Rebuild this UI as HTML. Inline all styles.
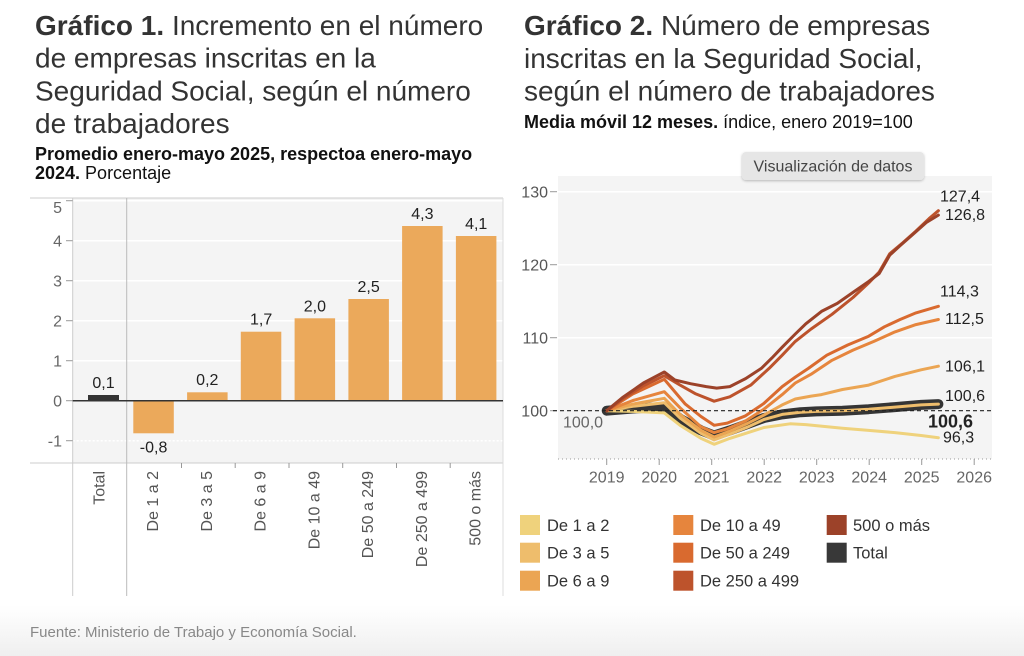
<!DOCTYPE html>
<html>
<head>
<meta charset="utf-8">
<style>
html,body{margin:0;padding:0;background:#fff;}
svg{display:block;font-family:"Liberation Sans",Arial,sans-serif;}
</style>
</head>
<body>
<svg width="1024" height="656" viewBox="0 0 1024 656" xmlns="http://www.w3.org/2000/svg">
<defs>
  <linearGradient id="bot" x1="0" y1="0" x2="0" y2="1">
    <stop offset="0" stop-color="#ffffff"/>
    <stop offset="1" stop-color="#efefef"/>
  </linearGradient>
  <filter id="sh" x="-10%" y="-30%" width="120%" height="170%">
    <feDropShadow dx="0" dy="1" stdDeviation="1.2" flood-color="#000" flood-opacity="0.25"/>
  </filter>
</defs>

<rect x="0" y="605" width="1024" height="51" fill="url(#bot)"/>

<!-- ===== LEFT TITLE ===== -->
<g fill="#333" font-size="28">
  <text x="35" y="35"><tspan font-weight="bold">Gráfico 1.</tspan> Incremento en el número</text>
  <text x="35" y="67.7">de empresas inscritas en la</text>
  <text x="35" y="100.4">Seguridad Social, según el número</text>
  <text x="35" y="133">de trabajadores</text>
</g>
<g fill="#111" font-size="18">
  <text x="35" y="160" font-weight="bold">Promedio enero-mayo 2025, respectoa enero-mayo</text>
  <text x="35" y="179"><tspan font-weight="bold">2024.</tspan> Porcentaje</text>
</g>

<!-- ===== LEFT CHART ===== -->
<rect x="72.7" y="198" width="430.3" height="265" fill="#f4f4f4"/>
<g stroke="#fff" stroke-width="1.5">
  <line x1="72.7" y1="200.7" x2="503" y2="200.7"/>
  <line x1="72.7" y1="240.7" x2="503" y2="240.7"/>
  <line x1="72.7" y1="280.7" x2="503" y2="280.7"/>
  <line x1="72.7" y1="320.7" x2="503" y2="320.7"/>
  <line x1="72.7" y1="360.7" x2="503" y2="360.7"/>
  <line x1="72.7" y1="440.7" x2="503" y2="440.7" stroke-dasharray="2,2"/>
</g>
<g stroke="#ccc" stroke-width="1">
  <line x1="30" y1="198" x2="503" y2="198"/>
  <line x1="30" y1="463" x2="503" y2="463"/>
  <line x1="72.7" y1="198" x2="72.7" y2="596"/>
  <line x1="126.7" y1="198" x2="126.7" y2="596" stroke="#bbb"/>
  <line x1="503" y1="198" x2="503" y2="596" stroke="#ddd"/>
</g>
<!-- y ticks -->
<g stroke="#999" stroke-width="1">
  <line x1="66" y1="200.7" x2="72.7" y2="200.7"/>
  <line x1="66" y1="240.7" x2="72.7" y2="240.7"/>
  <line x1="66" y1="280.7" x2="72.7" y2="280.7"/>
  <line x1="66" y1="320.7" x2="72.7" y2="320.7"/>
  <line x1="66" y1="360.7" x2="72.7" y2="360.7"/>
  <line x1="66" y1="400.7" x2="72.7" y2="400.7"/>
  <line x1="66" y1="440.7" x2="72.7" y2="440.7"/>
  <line x1="181.5" y1="463" x2="181.5" y2="468"/>
  <line x1="235.2" y1="463" x2="235.2" y2="468"/>
  <line x1="289" y1="463" x2="289" y2="468"/>
  <line x1="342.7" y1="463" x2="342.7" y2="468"/>
  <line x1="396.5" y1="463" x2="396.5" y2="468"/>
  <line x1="450.2" y1="463" x2="450.2" y2="468"/>
</g>
<g fill="#666" font-size="16" text-anchor="end">
  <text x="62" y="213">5</text>
  <text x="62" y="246.5">4</text>
  <text x="62" y="286.5">3</text>
  <text x="62" y="326.5">2</text>
  <text x="62" y="366.5">1</text>
  <text x="62" y="406.5">0</text>
  <text x="62" y="446.5">-1</text>
</g>
<!-- bars -->
<rect x="88" y="395" width="31" height="5.7" fill="#333"/>
<g fill="#eba95b">
  <rect x="133.3" y="400.7" width="40.5" height="32.6"/>
  <rect x="187.1" y="392.3" width="40.5" height="8.4"/>
  <rect x="240.8" y="331.7" width="40.5" height="69"/>
  <rect x="294.6" y="318.3" width="40.5" height="82.4"/>
  <rect x="348.4" y="299" width="40.5" height="101.7"/>
  <rect x="402.1" y="226" width="40.5" height="174.7"/>
  <rect x="455.9" y="236" width="40.5" height="164.7"/>
</g>
<line x1="72.7" y1="400.7" x2="503" y2="400.7" stroke="#333" stroke-width="1.5"/>
<g fill="#222" font-size="16" text-anchor="middle">
  <text x="103.5" y="388">0,1</text>
  <text x="153.6" y="452.5">-0,8</text>
  <text x="207.3" y="385">0,2</text>
  <text x="261.1" y="324.7">1,7</text>
  <text x="314.9" y="311.3">2,0</text>
  <text x="368.6" y="292">2,5</text>
  <text x="422.4" y="219">4,3</text>
  <text x="476.2" y="229">4,1</text>
</g>
<g fill="#555" font-size="16" text-anchor="end" dominant-baseline="central">
  <text transform="translate(100,471) rotate(-90)">Total</text>
  <text transform="translate(153.6,471) rotate(-90)">De 1 a 2</text>
  <text transform="translate(207.3,471) rotate(-90)">De 3 a 5</text>
  <text transform="translate(261.1,471) rotate(-90)">De 6 a 9</text>
  <text transform="translate(314.9,471) rotate(-90)">De 10 a 49</text>
  <text transform="translate(368.6,471) rotate(-90)">De 50 a 249</text>
  <text transform="translate(422.4,471) rotate(-90)">De 250 a 499</text>
  <text transform="translate(476.2,471) rotate(-90)">500 o más</text>
</g>

<!-- ===== RIGHT TITLE ===== -->
<g fill="#333" font-size="28">
  <text x="524" y="35"><tspan font-weight="bold">Gráfico 2.</tspan> Número de empresas</text>
  <text x="524" y="68">inscritas en la Seguridad Social,</text>
  <text x="524" y="100.5">según el número de trabajadores</text>
</g>
<text x="524" y="128" fill="#111" font-size="18"><tspan font-weight="bold">Media móvil 12 meses.</tspan> índice, enero 2019=100</text>

<!-- ===== RIGHT CHART ===== -->
<rect x="558" y="176" width="434" height="283" fill="#f4f4f4"/>
<g stroke="#fff" stroke-width="1.5">
  <line x1="558" y1="191.7" x2="992" y2="191.7"/>
  <line x1="558" y1="264.7" x2="992" y2="264.7"/>
  <line x1="558" y1="337.7" x2="992" y2="337.7"/>
</g>
<g stroke="#999" stroke-width="1">
  <line x1="550" y1="191.7" x2="557" y2="191.7"/>
  <line x1="550" y1="264.7" x2="557" y2="264.7"/>
  <line x1="550" y1="337.7" x2="557" y2="337.7"/>
  <line x1="550" y1="410.7" x2="557" y2="410.7"/>
</g>
<g fill="#555" font-size="16" text-anchor="end">
  <text x="548" y="197.5">130</text>
  <text x="548" y="270.5">120</text>
  <text x="548" y="343.5">110</text>
  <text x="548" y="416.5">100</text>
</g>
<line x1="558" y1="459" x2="992" y2="459" stroke="#999" stroke-width="1" stroke-dasharray="1,3"/>
<g stroke="#999" stroke-width="1">
  <line x1="606.7" y1="459" x2="606.7" y2="465"/>
  <line x1="659.2" y1="459" x2="659.2" y2="465"/>
  <line x1="711.7" y1="459" x2="711.7" y2="465"/>
  <line x1="764.2" y1="459" x2="764.2" y2="465"/>
  <line x1="816.7" y1="459" x2="816.7" y2="465"/>
  <line x1="869.2" y1="459" x2="869.2" y2="465"/>
  <line x1="921.7" y1="459" x2="921.7" y2="465"/>
  <line x1="974.2" y1="459" x2="974.2" y2="465"/>
</g>
<g fill="#666" font-size="16" text-anchor="middle">
  <text x="606.7" y="482.5">2019</text>
  <text x="659.2" y="482.5">2020</text>
  <text x="711.7" y="482.5">2021</text>
  <text x="764.2" y="482.5">2022</text>
  <text x="816.7" y="482.5">2023</text>
  <text x="869.2" y="482.5">2024</text>
  <text x="921.7" y="482.5">2025</text>
  <text x="974.2" y="482.5">2026</text>
</g>

<!-- series -->
<g fill="none" stroke-linejoin="round" stroke-linecap="round">
  <polyline stroke="#353535" stroke-width="10" points="606.7,410.7 632.9,408.5 664.3,407.1 680.1,418.7 701.0,430.4 714.1,435.5 729.8,430.4 748.2,423.8 763.9,418.0 782.2,414.4 800.6,412.2 816.3,411.4 842.5,410.7 868.7,409.2 894.9,407.1 921.1,404.9 938.4,404.1"/>
  <polyline stroke="#efd27c" stroke-width="3" points="606.7,410.7 632.9,411.4 664.3,412.9 680.1,425.3 701.0,438.4 714.1,444.3 729.8,438.4 748.2,432.6 763.9,427.5 790.1,423.8 805.8,424.6 842.5,428.2 868.7,430.4 894.9,432.6 921.1,435.5 938.4,437.7"/>
  <polyline stroke="#eebd6c" stroke-width="3" points="606.7,410.7 632.9,406.3 664.3,402.7 680.1,418.0 701.0,433.3 714.1,439.9 729.8,434.1 748.2,426.8 763.9,419.5 782.2,414.4 800.6,412.2 816.3,411.4 842.5,410.7 868.7,409.2 894.9,407.1 921.1,404.9 938.4,404.1"/>
  <polyline stroke="#eba553" stroke-width="3" points="606.7,410.7 632.9,404.1 664.3,398.3 680.1,414.4 701.0,430.4 714.1,437.0 729.8,431.1 748.2,423.1 763.9,415.1 782.2,404.9 795.3,399.0 811.1,396.1 821.5,394.6 842.5,389.5 868.7,385.1 894.9,376.4 921.1,369.8 938.4,366.2"/>
  <polyline stroke="#e6853d" stroke-width="3" points="606.7,410.7 632.9,400.5 664.3,391.7 680.1,407.8 701.0,426.8 714.1,432.6 727.2,428.9 745.6,420.9 763.9,409.2 782.2,394.6 795.3,383.0 811.1,374.2 832.0,360.3 853.0,350.1 873.9,341.4 894.9,331.9 915.9,324.6 938.4,319.5"/>
  <polyline stroke="#d96a2f" stroke-width="3" points="606.7,410.7 632.9,393.9 664.3,379.3 685.3,404.1 701.0,416.5 714.1,425.3 727.2,423.1 745.6,415.8 763.9,403.4 782.2,386.6 795.3,377.1 808.4,368.4 826.8,355.2 847.7,345.0 868.7,336.2 884.4,326.8 900.1,319.5 915.9,312.9 938.4,306.3"/>
  <polyline stroke="#bd532c" stroke-width="3" points="606.7,410.7 622.4,399.0 643.4,385.9 664.3,375.7 680.1,385.1 695.8,393.9 714.1,401.2 729.8,396.8 750.8,385.1 769.1,368.4 782.2,355.2 795.3,341.4 811.1,329.0 832.0,314.3 853.0,297.5 868.7,282.9 879.2,272.0 889.7,253.8 902.8,242.8 915.9,231.1 929.0,218.7 938.4,210.7"/>
  <polyline stroke="#9c4229" stroke-width="3" points="606.7,410.7 622.4,397.6 643.4,383.0 664.3,372.0 674.8,380.0 690.5,383.7 706.3,386.6 716.7,388.1 729.8,386.6 745.6,378.6 761.3,368.4 771.8,358.1 782.2,347.2 795.3,334.0 805.8,323.8 821.5,311.4 837.3,303.4 853.0,292.4 868.7,281.5 879.2,273.5 889.7,255.2 900.1,245.7 913.2,234.1 926.3,222.5 938.4,215.1"/>
</g>
<line x1="553" y1="410.7" x2="992" y2="410.7" stroke="#222" stroke-width="1.2" stroke-dasharray="4,3"/>

<g fill="#222" font-size="16">
  <text x="940" y="201.5">127,4</text>
  <text x="945" y="219.8">126,8</text>
  <text x="940" y="296.5">114,3</text>
  <text x="945" y="324">112,5</text>
  <text x="945" y="371.5">106,1</text>
  <text x="945" y="400.8">100,6</text>
  <text x="928" y="427.5" font-weight="bold" font-size="18">100,6</text>
  <text x="943" y="442.5">96,3</text>
</g>
<text x="563" y="427.5" fill="#666" font-size="16">100,0</text>

<!-- button -->
<g filter="url(#sh)">
  <rect x="742" y="152" width="182" height="28" rx="4" fill="#e6e6e6"/>
</g>
<text x="833" y="171.5" fill="#444" font-size="16" text-anchor="middle">Visualización de datos</text>

<!-- legend -->
<g>
  <rect x="520" y="515" width="20" height="20" fill="#efd27c"/>
  <rect x="520" y="542.7" width="20" height="20" fill="#eebd6c"/>
  <rect x="520" y="570.7" width="20" height="20" fill="#eba553"/>
  <rect x="673.3" y="515" width="20" height="20" fill="#e6853d"/>
  <rect x="673.3" y="542.7" width="20" height="20" fill="#d96a2f"/>
  <rect x="673.3" y="570.7" width="20" height="20" fill="#bd532c"/>
  <rect x="826.7" y="515" width="20" height="20" fill="#9c4229"/>
  <rect x="826.7" y="542.7" width="20" height="20" fill="#383838"/>
</g>
<g fill="#333" font-size="16.5">
  <text x="547" y="531">De 1 a 2</text>
  <text x="547" y="558.7">De 3 a 5</text>
  <text x="547" y="586.7">De 6 a 9</text>
  <text x="700" y="531">De 10 a 49</text>
  <text x="700" y="558.7">De 50 a 249</text>
  <text x="700" y="586.7">De 250 a 499</text>
  <text x="853" y="531">500 o más</text>
  <text x="853" y="558.7">Total</text>
</g>

<!-- footer -->
<text x="30" y="637" fill="#888" font-size="15">Fuente: Ministerio de Trabajo y Economía Social.</text>
</svg>
</body>
</html>
